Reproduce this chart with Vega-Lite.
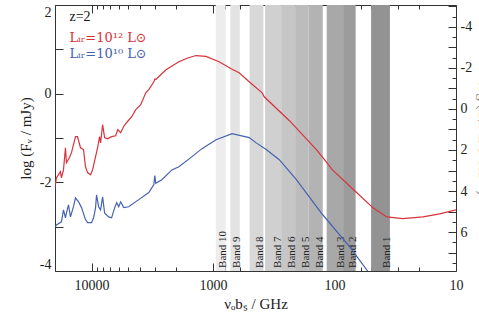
{
  "$schema": "https://vega.github.io/schema/vega-lite/v6.json",
  "width": 401,
  "height": 266,
  "autosize": {"type": "none"},
  "padding": {"left": 55, "top": 5, "right": 23, "bottom": 43},
  "background": "white",
  "config": {
    "view": {"stroke": null},
    "axis": {
      "grid": false,
      "domainColor": "#333333",
      "tickColor": "#333333",
      "labelFont": "Liberation Serif",
      "titleFont": "Liberation Serif",
      "labelFontSize": 14,
      "titleFontSize": 15,
      "titleFontWeight": "normal",
      "labelColor": "#222222",
      "titleColor": "#222222",
      "labelFlush": false,
      "labelOverlap": false
    }
  },
  "datasets": {
    "bands": [
      {"band": "Band 2", "lo": 67, "hi": 90},
      {"band": "Band 3", "lo": 84, "hi": 116},
      {"band": "Band 1", "lo": 35, "hi": 50},
      {"band": "Band 4", "lo": 125, "hi": 163},
      {"band": "Band 5", "lo": 163, "hi": 211},
      {"band": "Band 6", "lo": 211, "hi": 275},
      {"band": "Band 7", "lo": 275, "hi": 373},
      {"band": "Band 8", "lo": 385, "hi": 500},
      {"band": "Band 9", "lo": 602, "hi": 720},
      {"band": "Band 10", "lo": 787, "hi": 950}
    ],
    "sed": [
      {"s": "L12", "nu": 20230, "v": -2.17},
      {"s": "L12", "nu": 19470, "v": -1.90},
      {"s": "L12", "nu": 18040, "v": -1.76},
      {"s": "L12", "nu": 17700, "v": -1.90},
      {"s": "L12", "nu": 17030, "v": -1.72},
      {"s": "L12", "nu": 16400, "v": -1.22},
      {"s": "L12", "nu": 16100, "v": -1.56},
      {"s": "L12", "nu": 15200, "v": -1.44},
      {"s": "L12", "nu": 14630, "v": -1.33},
      {"s": "L12", "nu": 13560, "v": -0.97},
      {"s": "L12", "nu": 13060, "v": -0.97},
      {"s": "L12", "nu": 12330, "v": -1.22},
      {"s": "L12", "nu": 11650, "v": -1.26},
      {"s": "L12", "nu": 11220, "v": -1.65},
      {"s": "L12", "nu": 10790, "v": -1.78},
      {"s": "L12", "nu": 10190, "v": -1.83},
      {"s": "L12", "nu": 9810, "v": -1.72},
      {"s": "L12", "nu": 9270, "v": -1.42},
      {"s": "L12", "nu": 8920, "v": -1.22},
      {"s": "L12", "nu": 8590, "v": -0.97},
      {"s": "L12", "nu": 8430, "v": -1.11},
      {"s": "L12", "nu": 8110, "v": -0.70},
      {"s": "L12", "nu": 7810, "v": -0.99},
      {"s": "L12", "nu": 7380, "v": -1.02},
      {"s": "L12", "nu": 6840, "v": -0.97},
      {"s": "L12", "nu": 6330, "v": -0.95},
      {"s": "L12", "nu": 6090, "v": -0.81},
      {"s": "L12", "nu": 5760, "v": -0.88},
      {"s": "L12", "nu": 5440, "v": -0.74},
      {"s": "L12", "nu": 5140, "v": -0.65},
      {"s": "L12", "nu": 4670, "v": -0.52},
      {"s": "L12", "nu": 4330, "v": -0.36},
      {"s": "L12", "nu": 3940, "v": -0.25},
      {"s": "L12", "nu": 3580, "v": 0.02},
      {"s": "L12", "nu": 3380, "v": 0.09},
      {"s": "L12", "nu": 3070, "v": 0.27},
      {"s": "L12", "nu": 3010, "v": 0.33},
      {"s": "L12", "nu": 2960, "v": 0.32},
      {"s": "L12", "nu": 2440, "v": 0.54},
      {"s": "L12", "nu": 1910, "v": 0.72},
      {"s": "L12", "nu": 1640, "v": 0.80},
      {"s": "L12", "nu": 1380, "v": 0.86},
      {"s": "L12", "nu": 1143, "v": 0.84},
      {"s": "L12", "nu": 892, "v": 0.72},
      {"s": "L12", "nu": 697, "v": 0.55},
      {"s": "L12", "nu": 610, "v": 0.47},
      {"s": "L12", "nu": 504, "v": 0.27},
      {"s": "L12", "nu": 394, "v": 0.02},
      {"s": "L12", "nu": 379, "v": -0.07},
      {"s": "L12", "nu": 235, "v": -0.61},
      {"s": "L12", "nu": 141, "v": -1.26},
      {"s": "L12", "nu": 121, "v": -1.49},
      {"s": "L12", "nu": 104, "v": -1.72},
      {"s": "L12", "nu": 65.8, "v": -2.23},
      {"s": "L12", "nu": 48.5, "v": -2.57},
      {"s": "L12", "nu": 37.2, "v": -2.78},
      {"s": "L12", "nu": 27.4, "v": -2.82},
      {"s": "L12", "nu": 18.7, "v": -2.78},
      {"s": "L12", "nu": 13.6, "v": -2.71},
      {"s": "L12", "nu": 10, "v": -2.62},
      {"s": "L10", "nu": 19860, "v": -3.00},
      {"s": "L10", "nu": 19470, "v": -2.96},
      {"s": "L10", "nu": 17700, "v": -2.89},
      {"s": "L10", "nu": 17030, "v": -2.62},
      {"s": "L10", "nu": 16400, "v": -2.80},
      {"s": "L10", "nu": 16100, "v": -2.69},
      {"s": "L10", "nu": 15490, "v": -2.51},
      {"s": "L10", "nu": 14920, "v": -2.78},
      {"s": "L10", "nu": 14090, "v": -2.55},
      {"s": "L10", "nu": 13560, "v": -2.35},
      {"s": "L10", "nu": 12800, "v": -2.44},
      {"s": "L10", "nu": 12100, "v": -2.57},
      {"s": "L10", "nu": 11220, "v": -2.84},
      {"s": "L10", "nu": 10790, "v": -2.91},
      {"s": "L10", "nu": 10000, "v": -2.91},
      {"s": "L10", "nu": 9620, "v": -2.80},
      {"s": "L10", "nu": 9270, "v": -2.57},
      {"s": "L10", "nu": 9100, "v": -2.28},
      {"s": "L10", "nu": 8750, "v": -2.55},
      {"s": "L10", "nu": 8430, "v": -2.62},
      {"s": "L10", "nu": 8110, "v": -2.33},
      {"s": "L10", "nu": 7810, "v": -2.69},
      {"s": "L10", "nu": 7240, "v": -2.78},
      {"s": "L10", "nu": 6840, "v": -2.80},
      {"s": "L10", "nu": 6450, "v": -2.57},
      {"s": "L10", "nu": 6210, "v": -2.46},
      {"s": "L10", "nu": 5980, "v": -2.55},
      {"s": "L10", "nu": 5760, "v": -2.44},
      {"s": "L10", "nu": 5440, "v": -2.57},
      {"s": "L10", "nu": 4950, "v": -2.55},
      {"s": "L10", "nu": 4090, "v": -2.39},
      {"s": "L10", "nu": 3380, "v": -2.23},
      {"s": "L10", "nu": 3070, "v": -2.05},
      {"s": "L10", "nu": 3015, "v": -1.85},
      {"s": "L10", "nu": 2960, "v": -2.02},
      {"s": "L10", "nu": 2640, "v": -1.94},
      {"s": "L10", "nu": 2180, "v": -1.72},
      {"s": "L10", "nu": 1910, "v": -1.65},
      {"s": "L10", "nu": 1490, "v": -1.42},
      {"s": "L10", "nu": 1233, "v": -1.24},
      {"s": "L10", "nu": 944, "v": -1.04},
      {"s": "L10", "nu": 697, "v": -0.90},
      {"s": "L10", "nu": 504, "v": -0.99},
      {"s": "L10", "nu": 441, "v": -1.11},
      {"s": "L10", "nu": 365, "v": -1.26},
      {"s": "L10", "nu": 285, "v": -1.49},
      {"s": "L10", "nu": 206, "v": -1.94},
      {"s": "L10", "nu": 126, "v": -2.72},
      {"s": "L10", "nu": 75.2, "v": -3.45},
      {"s": "L10", "nu": 53.4, "v": -4.0}
    ]
  },
  "layer": [
    {
      "layer": [
        {
          "data": {"name": "bands"},
          "mark": {"type": "rect"},
          "encoding": {
            "x": {"field": "lo", "type": "quantitative", "title": "νₒbₛ / GHz"},
            "x2": {"field": "hi"},
            "color": {
              "field": "band",
              "type": "nominal",
              "scale": {
                "domain": ["Band 1", "Band 2", "Band 3", "Band 4", "Band 5", "Band 6", "Band 7", "Band 8", "Band 9", "Band 10"],
                "range": ["#939393", "#9c9c9c", "#a8a8a8", "#b3b3b3", "#bcbcbc", "#c6c6c6", "#d0d0d0", "#d8d8d8", "#e3e3e3", "#ededed"]
              },
              "legend": null
            }
          }
        },
        {
          "data": {"name": "bands"},
          "mark": {"type": "text", "angle": 270, "align": "left", "baseline": "alphabetic", "font": "Liberation Serif", "fontSize": 11, "color": "#222222"},
          "encoding": {
            "x": {"field": "lo", "type": "quantitative", "title": "νₒbₛ / GHz"},
            "y": {"datum": -3.93},
            "text": {"field": "band"}
          }
        },
        {
          "data": {"name": "sed"},
          "mark": {"type": "line", "strokeWidth": 1.2, "clip": true},
          "encoding": {
            "x": {
              "field": "nu",
              "type": "quantitative",
              "scale": {"type": "log", "domain": [10, 20000], "reverse": true, "nice": false},
              "axis": {
                "orient": "bottom",
                "title": "νₒbₛ / GHz",
                "values": [10, 20, 30, 40, 50, 60, 70, 80, 90, 100, 200, 300, 400, 500, 600, 700, 800, 900, 1000, 2000, 3000, 4000, 5000, 6000, 7000, 8000, 9000, 10000, 20000],
                "labelExpr": "datum.value==10||datum.value==100||datum.value==1000||datum.value==10000 ? ''+datum.value : ''",
                "tickSize": {"condition": {"test": "datum.value==10||datum.value==100||datum.value==1000||datum.value==10000", "value": -8}, "value": -4},
                "labelPadding": 15,
                "titlePadding": 0
              }
            },
            "y": {
              "field": "v",
              "type": "quantitative",
              "scale": {"domain": [-4, 2], "nice": false, "zero": false},
              "axis": {
                "orient": "left",
                "title": "log (Fᵥ / mJy)",
                "values": [-4, -3.5, -3, -2.5, -2, -1.5, -1, -0.5, 0, 0.5, 1, 1.5, 2],
                "labelExpr": "datum.value % 2 == 0 ? ''+datum.value : ''",
                "tickSize": {"condition": {"test": "datum.value % 1 == 0", "value": -8}, "value": -4},
                "labelPadding": 12,
                "labelFlush": true,
                "titlePadding": 6
              }
            },
            "color": {
              "field": "s",
              "type": "nominal",
              "scale": {"domain": ["L12", "L10"], "range": ["#d8333a", "#4562b0"]},
              "legend": null
            }
          }
        },
        {
          "data": {"values": [{}]},
          "mark": {"type": "text", "align": "left", "baseline": "middle", "font": "Liberation Serif", "fontSize": 14, "color": "#111111"},
          "encoding": {"x": {"datum": 15200}, "y": {"datum": 1.72}, "text": {"value": "z=2"}}
        },
        {
          "data": {"values": [{}]},
          "mark": {"type": "text", "align": "left", "baseline": "middle", "font": "DejaVu Serif", "fontSize": 13, "color": "#d8333a"},
          "encoding": {"x": {"datum": 15200}, "y": {"datum": 1.26}, "text": {"value": "Lᵢᵣ=10¹² L⊙"}}
        },
        {
          "data": {"values": [{}]},
          "mark": {"type": "text", "align": "left", "baseline": "middle", "font": "DejaVu Serif", "fontSize": 13, "color": "#4562b0"},
          "encoding": {"x": {"datum": 15200}, "y": {"datum": 0.9}, "text": {"value": "Lᵢᵣ=10¹⁰ L⊙"}}
        }
      ],
      "resolve": {"scale": {"color": "independent"}}
    },
    {
      "data": {"values": [{"nu": 10, "m": -5.07}, {"nu": 20000, "m": 7.9}]},
      "mark": {"type": "point", "opacity": 0},
      "encoding": {
        "x": {
          "field": "nu",
          "type": "quantitative",
          "scale": {"type": "log", "domain": [10, 20000], "reverse": true, "nice": false},
          "axis": {
            "orient": "top",
            "title": null,
            "labels": false,
            "values": [10, 20, 30, 40, 50, 60, 70, 80, 90, 100, 200, 300, 400, 500, 600, 700, 800, 900, 1000, 2000, 3000, 4000, 5000, 6000, 7000, 8000, 9000, 10000, 20000],
            "tickSize": {"condition": {"test": "datum.value==10||datum.value==100||datum.value==1000||datum.value==10000", "value": -8}, "value": -4}
          }
        },
        "y": {
          "field": "m",
          "type": "quantitative",
          "scale": {"domain": [-5.07, 7.9], "reverse": true, "nice": false, "zero": false},
          "axis": {
            "orient": "right",
            "title": "log (Lᵥ / L⊙ Hz⁻¹)",
            "values": [-5, -4.5, -4, -3.5, -3, -2.5, -2, -1.5, -1, -0.5, 0, 0.5, 1, 1.5, 2, 2.5, 3, 3.5, 4, 4.5, 5, 5.5, 6, 6.5, 7, 7.5],
            "labelExpr": "datum.value % 2 == 0 ? ''+datum.value : ''",
            "tickSize": {"condition": {"test": "datum.value % 1 == 0", "value": -8}, "value": -4},
            "labelPadding": 12,
            "titlePadding": 4,
            "titleColor": "#888888"
          }
        }
      }
    }
  ],
  "resolve": {"scale": {"y": "independent"}, "axis": {"x": "independent", "y": "independent"}}
}
